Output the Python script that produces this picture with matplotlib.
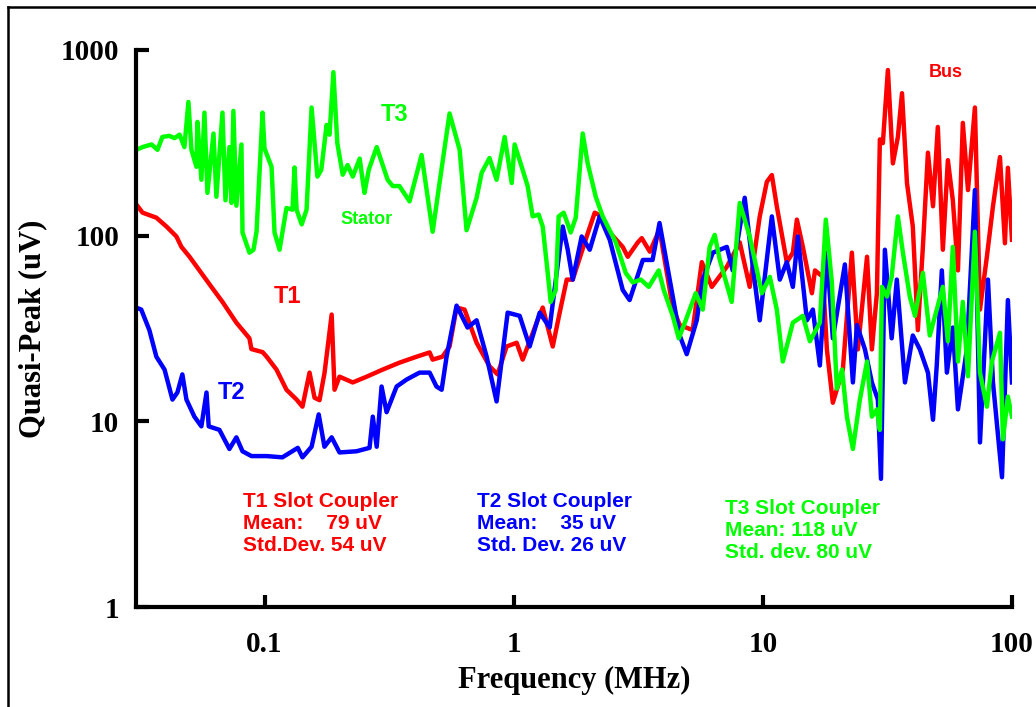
import matplotlib
matplotlib.use("Agg")
import matplotlib.pyplot as plt
from matplotlib.lines import Line2D
from matplotlib.ticker import FixedLocator, NullLocator

# T3 (stator, green)
t3_freq = [0.0306, 0.0324, 0.0352, 0.0372, 0.0389, 0.0415, 0.0435, 0.0456, 0.0477, 0.0495,
           0.0509, 0.0533, 0.0538, 0.0558, 0.0574, 0.059, 0.0624, 0.0641, 0.0678, 0.0697,
           0.0723, 0.0737, 0.075, 0.0771, 0.0808, 0.0816, 0.087, 0.0903, 0.0929, 0.0982,
           0.1, 0.1067, 0.1097, 0.1149, 0.1225, 0.1295, 0.132, 0.1345, 0.141, 0.1475,
           0.1545, 0.163, 0.169, 0.1775, 0.1824, 0.189, 0.196, 0.206, 0.2155, 0.226,
           0.241, 0.2475, 0.252, 0.262, 0.282, 0.295, 0.312, 0.327, 0.348, 0.382,
           0.427, 0.473, 0.504, 0.553, 0.607, 0.647, 0.71, 0.744, 0.80, 0.854,
           0.92, 0.982, 1.009, 1.077, 1.138, 1.192, 1.26, 1.308, 1.37, 1.408,
           1.475, 1.516, 1.588, 1.694, 1.775, 1.893, 1.982, 2.135, 2.277, 2.57,
           2.817, 3.005, 3.24, 3.484, 3.822, 4.003, 4.35, 4.598, 4.905, 5.38,
           5.74, 6.12, 6.41, 6.72, 7.5, 8.08, 8.86, 9.91, 10.67, 11.38,
           12.03, 13.2, 14.48, 15.45, 16.94, 17.9, 18.93, 19.82, 20.8, 21.75,
           22.99, 24.5, 26.2, 27.4, 28.7, 29.5, 30.05, 31.5, 32.9, 34.84,
           36.5, 38.9, 40.8, 43.9, 46.8, 49.9, 52.8, 55.3, 57.9, 60.7,
           63.5, 66.6, 71.0, 74.4, 79.3, 83.1, 89.5, 92.0, 96.3, 100]
t3_uv = [290, 300, 310, 290, 340, 345, 335, 350, 300, 525,
         290, 235, 410, 200, 460, 170, 355, 162, 460, 155,
         300, 150, 470, 145, 310, 104, 81, 84, 105, 460,
         295, 235, 104, 84, 141, 138, 233, 138, 115, 138,
         490, 208, 226, 395, 350, 760, 315, 213, 240, 208,
         260, 200, 170, 226, 300, 250, 200, 185, 185, 153,
         272, 105, 192, 455, 290, 107, 160, 218, 262, 200,
         340, 192, 310, 235, 185, 127, 130, 112, 63, 44,
         51, 127, 133, 104, 125, 355, 245, 162, 127, 92,
         63, 56, 58, 53, 65, 51, 37, 28, 35, 49,
         40, 87, 101, 74, 44, 150, 99, 49, 60, 40,
         21, 34, 37, 27, 34, 122, 56, 15, 19, 10.6,
         7.1, 13, 21, 10.6, 11.6, 9, 53, 47, 60, 127,
         81, 47, 37, 63, 29, 40, 53, 27, 87, 21,
         44, 17.5, 105, 18.3, 12, 21, 30, 8, 13.6, 10.6]

# T1 (slot coupler, red)
t1_freq = [0.0305, 0.0324, 0.0368, 0.0404, 0.0443, 0.0464, 0.050, 0.0548, 0.0612, 0.0678,
           0.0771, 0.087, 0.0886, 0.0982, 0.102, 0.1117, 0.1225, 0.1345, 0.142, 0.1516,
           0.1588, 0.1663, 0.1742, 0.186, 0.191, 0.200, 0.226, 0.257, 0.298, 0.348,
           0.408, 0.460, 0.473, 0.518, 0.553, 0.590, 0.635, 0.710, 0.80, 0.862,
           0.937, 1.028, 1.087, 1.237, 1.308, 1.435, 1.53, 1.633, 1.726, 1.964,
           2.115, 2.257, 2.43, 2.74, 2.87, 3.15, 3.266, 3.52, 3.85, 4.35,
           4.64, 5.23, 5.69, 6.24, 7.17, 8.08, 8.86, 9.72, 10.38, 10.87,
           11.38, 12.48, 13.2, 13.7, 14.48, 15.74, 16.2, 17.42, 18.08, 19.1,
           20.95, 22.77, 24.07, 26.2, 27.4, 28.7, 29.5, 30.33, 31.77, 33.27,
           34.84, 36.2, 37.9, 40.0, 41.9, 43.9, 46.0, 48.2, 50.4, 52.8,
           55.3, 57.9, 60.7, 63.5, 66.6, 71.0, 74.4, 79.3, 83.9, 89.5,
           93.7, 96.3, 100]
t1_uv = [148, 133, 125, 112, 99, 87, 77, 65, 53, 44,
         34, 28, 24.5, 23.6, 22.3, 19, 14.8, 13.1, 12.0, 18.3,
         13.4, 13, 18.3, 37.6, 14.8, 17.4, 16.2, 17.4, 19, 20.7,
         22.3, 23.5, 21.5, 22.3, 25.3, 41, 40, 26.5, 19.8, 17.9,
         25.3, 26.5, 21.5, 34, 41, 25.3, 38.5, 58, 58, 99,
         133, 127, 104, 87, 77, 92, 97, 82, 108, 41,
         33, 31, 72, 53, 68, 92, 53, 127, 195, 212,
         144, 72, 81, 122, 87, 49, 65, 60, 24.4, 12.6,
         19, 81, 24.4, 77, 24.4, 49, 330, 315, 780, 245,
         340, 585, 192, 112, 31, 87, 280, 144, 385, 84,
         255, 155, 65, 405, 176, 490, 40, 77, 144, 265,
         91, 232, 95]

# T2 (slot coupler, blue)
t2_freq = [0.0305, 0.032, 0.0345, 0.0368, 0.0397, 0.0427, 0.0447, 0.0468, 0.0486, 0.0523,
           0.0558, 0.0585, 0.0597, 0.0659, 0.0723, 0.0771, 0.0816, 0.0886, 0.102, 0.118,
           0.136, 0.142, 0.1545, 0.165, 0.174, 0.186, 0.200, 0.234, 0.264, 0.272,
           0.282, 0.295, 0.309, 0.339, 0.372, 0.419, 0.460, 0.49, 0.514, 0.538,
           0.590, 0.653, 0.710, 0.779, 0.854, 0.946, 1.057, 1.159, 1.272, 1.395,
           1.488, 1.574, 1.648, 1.726, 1.875, 2.02, 2.215, 2.43, 2.74, 2.92,
           3.30, 3.61, 3.85, 4.23, 4.64, 4.95, 5.43, 5.74, 6.30, 7.17,
           7.57, 8.46, 9.12, 9.72, 10.87, 11.70, 12.48, 13.2, 13.82, 15.03,
           15.88, 16.94, 18.08, 19.1, 21.35, 22.99, 23.86, 25.7, 27.4, 28.96,
           29.8, 30.9, 32.9, 34.5, 37.2, 40.0, 42.7, 46.0, 48.2, 49.9,
           52.3, 54.8, 57.9, 60.7, 65.9, 71.0, 74.4, 80.1, 83.9, 91.2,
           96.3, 100]
t2_uv = [41, 40, 31, 22.3, 19, 13.1, 14.3, 17.9, 13.1, 10.6,
         9.4, 14.3, 9.4, 9.0, 7.1, 8.2, 6.9, 6.5, 6.5, 6.4,
         7.2, 6.4, 7.3, 10.9, 7.3, 8.2, 6.8, 6.9, 7.2, 10.6,
         7.3, 15.4, 11.2, 15.4, 16.8, 18.3, 18.3, 15.4, 14.8, 22.3,
         42, 32, 35, 22.3, 12.8, 38.5, 37, 25.3, 38.5, 32,
         63, 112, 84, 58, 99, 84, 127, 95, 51, 45,
         74, 74, 117, 58, 29, 23, 35, 58, 81, 87,
         65, 160, 68, 35, 127, 58, 72, 53, 99, 35,
         40, 20, 81, 28, 70, 16.2, 33, 24.4, 16.2, 13.1,
         4.9, 84, 28, 58, 16.2, 29, 24.4, 18.3, 10.2, 20,
         65, 18.3, 32, 11.6, 24.4, 176, 7.7, 58, 16.2, 5.0,
         45, 16.2]

RED, BLUE, GREEN = "#ff0000", "#0000ff", "#00ff00"
x_ticks = [0.1, 1, 10, 100]
x_labels = ["0.1", "1", "10", "100"]
y_ticks = [1, 10, 100, 1000]
y_labels = ["1", "10", "100", "1000"]

serif = "Liberation Serif"
sans = "Liberation Sans"

fig = plt.figure(figsize=(10.36, 7.07), dpi=100)
ax = fig.add_axes([0.1313, 0.1414, 0.8455, 0.7879])

ax.plot(t1_freq, t1_uv, color=RED, lw=3.2, solid_joinstyle="round")
ax.plot(t2_freq, t2_uv, color=BLUE, lw=3.2, solid_joinstyle="round")
ax.plot(t3_freq, t3_uv, color=GREEN, lw=3.2, solid_joinstyle="round")

ax.set_xscale("log")
ax.set_yscale("log")
ax.set_xlim(0.0305, 100)
ax.set_ylim(1, 1000)

for s in ["top", "right"]:
    ax.spines[s].set_visible(False)
for s in ["left", "bottom"]:
    ax.spines[s].set_linewidth(3)

ax.xaxis.set_major_locator(FixedLocator(x_ticks))
ax.yaxis.set_major_locator(FixedLocator(y_ticks))
ax.xaxis.set_minor_locator(NullLocator())
ax.yaxis.set_minor_locator(NullLocator())
ax.set_xticklabels(x_labels, fontfamily=serif, fontweight="bold", fontsize=21)
ax.set_yticklabels(y_labels, fontfamily=serif, fontweight="bold", fontsize=21)
ax.tick_params(axis="both", direction="in", length=9, width=3)
ax.tick_params(axis="x", pad=17)
ax.tick_params(axis="y", pad=12)

ax.set_xlabel("Frequency (MHz)", fontfamily=serif, fontweight="bold", fontsize=22, labelpad=6)
ax.set_ylabel("Quasi-Peak (uV)", fontfamily=serif, fontweight="bold", fontsize=22, labelpad=10)

# curve labels
ax.text(0.333, 447, "T3", color=GREEN, fontfamily=sans, fontweight="bold", fontsize=17,
        ha="center", va="center")
ax.text(0.257, 122, "Stator", color=GREEN, fontfamily=sans, fontweight="bold", fontsize=13,
        ha="center", va="center")
ax.text(0.124, 47, "T1", color=RED, fontfamily=sans, fontweight="bold", fontsize=17,
        ha="center", va="center")
ax.text(0.0737, 14.3, "T2", color=BLUE, fontfamily=sans, fontweight="bold", fontsize=17,
        ha="center", va="center")
ax.text(54.3, 752, "Bus", color=RED, fontfamily=sans, fontweight="bold", fontsize=13,
        ha="center", va="center")

# statistics blocks
stats = [
    (0.0817, 4.16, RED, "T1 Slot Coupler\nMean:    79 uV\nStd.Dev. 54 uV"),
    (0.713, 4.16, BLUE, "T2 Slot Coupler\nMean:    35 uV\nStd. Dev. 26 uV"),
    (7.02, 3.8, GREEN, "T3 Slot Coupler\nMean: 118 uV\nStd. dev. 80 uV"),
]
for fx, fy, c, txt in stats:
    ax.text(fx, fy, txt, color=c, fontfamily=sans, fontweight="bold", fontsize=15,
            ha="left", va="top", linespacing=1.2)

# outer frame (left and top edge)
fig.add_artist(Line2D([0.0077, 0.0077], [0, 0.990], transform=fig.transFigure,
                      color="black", lw=1.8))
fig.add_artist(Line2D([0.0077, 1], [0.990, 0.990], transform=fig.transFigure,
                      color="black", lw=1.8))

fig.savefig("out.png", dpi=100)
